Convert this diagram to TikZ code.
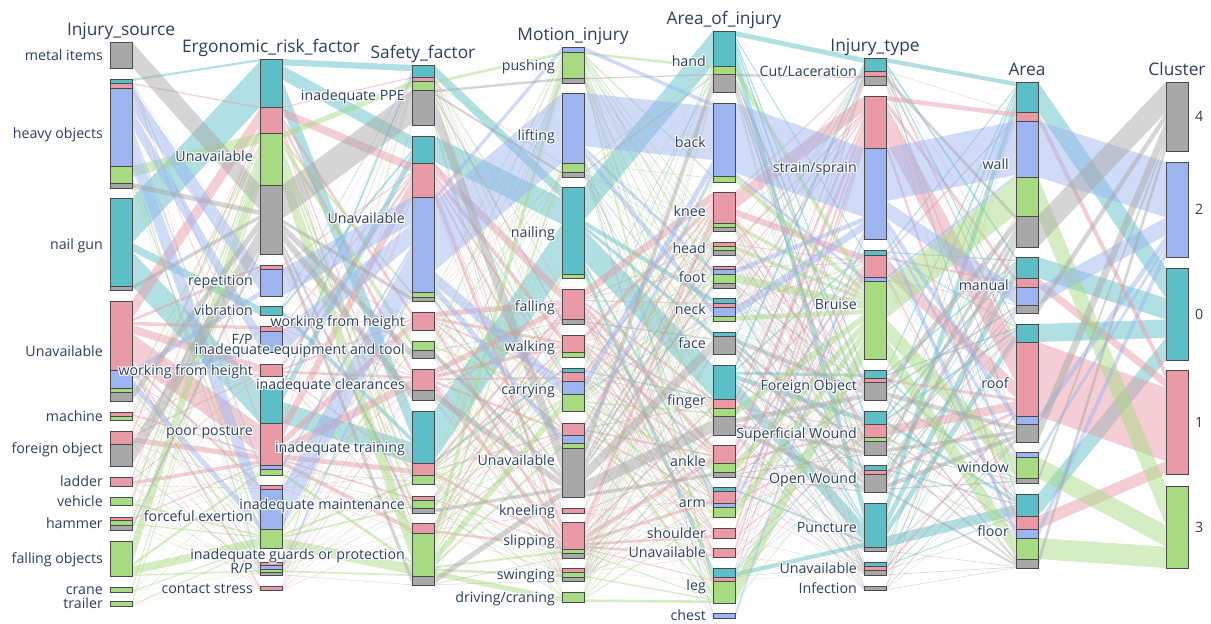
\documentclass[tikz,border=0pt]{standalone}
\usepackage{fontspec}
\setmainfont{Open Sans}

% cluster colours: 1 = cluster 0, 2 = cluster 1, 3 = cluster 3, 4 = cluster 2, 5 = cluster 4
\definecolor{c1}{HTML}{5CBFC7}
\definecolor{c2}{HTML}{E99AA6}
\definecolor{c3}{HTML}{A6DB82}
\definecolor{c4}{HTML}{9CB4F0}
\definecolor{c5}{HTML}{A8A8A8}
\definecolor{txt}{HTML}{2A3F5F}
\definecolor{edge}{HTML}{4A4A4A}

\tikzset{
  bar/.style={draw=edge, line width=0.9pt},
  rib/.style={fill opacity=0.48},
  lab/.style={font=\fontsize{14.2}{16}\selectfont, text=txt, inner sep=0pt},
  ttl/.style={font=\fontsize{17.3}{20}\selectfont, text=txt, inner sep=0pt, anchor=base},
}

% segments of each dimension: top/bottom/colour
\def\colA{42/68/5,79/83/1,83/88/2,88/166/4,166/183/3,183/188/5,198/286/1,286/290/5,301/370/2,370/388/4,388/392/3,392/401/5,412/416/2,416/420/3,431/444/2,444/466/5,477/486/2,497/505/3,517/520/2,520/525/3,525/530/5,541/576/3,587/592/3,601/606/3}
\def\colB{59/107/1,107/133/2,133/185/3,185/254/5,265/269/2,269/296/4,306/315/1,326/331/2,331/352/4,364/376/2,386/423/1,423/465/2,465/469/4,469/475/3,485/489/2,489/529/4,529/548/3,562/565/2,565/569/4,569/572/3,572/575/5,586/590/2}
\def\colC{65/77/1,77/81/2,81/90/3,90/125/5,136/163/1,163/197/2,197/292/4,292/297/3,297/301/5,312/330/2,341/350/3,350/358/5,369/390/2,390/400/5,411/463/1,463/475/2,475/484/3,496/500/2,500/508/3,508/513/5,523/533/2,533/576/3,576/585/5}
\def\colD{47/52/4,52/78/3,78/83/5,93/163/4,163/172/3,172/177/5,187/274/1,274/278/3,289/319/2,319/324/5,335/352/2,352/357/3,368/372/1,372/381/2,381/394/4,394/411/3,423/435/2,435/443/4,443/448/3,448/497/5,508/513/2,522/549/2,549/553/3,553/558/5,568/572/2,572/577/3,577/581/5,592/602/3}
\def\colE{31/66/1,66/74/3,74/92/5,103/176/4,176/182/3,192/223/2,223/227/3,227/231/5,242/246/2,246/250/3,250/255/5,266/269/2,269/274/4,274/283/3,283/288/5,298/303/1,303/307/2,307/316/4,316/321/3,332/336/1,336/354/5,365/399/1,399/408/2,408/416/3,416/435/5,445/463/2,463/472/3,472/477/5,487/491/1,491/503/2,503/507/4,507/517/3,528/538/2,548/557/2,568/577/1,577/581/2,581/603/3,613/618/4}
\def\colF{58/71/1,71/76/2,76/85/5,96/148/2,148/239/4,250/255/1,255/277/2,277/281/4,281/359/3,370/378/1,378/382/2,382/400/5,411/424/1,424/437/2,437/441/3,441/455/5,465/470/1,470/474/2,474/492/5,503/547/1,547/551/5,562/566/1,566/570/2,570/575/5,586/590/5}
\def\colG{82/112/1,112/121/2,121/177/4,177/216/3,216/247/5,257/278/1,278/287/2,287/305/4,305/313/5,324/342/1,342/416/2,416/424/4,424/442/5,452/457/4,457/478/3,478/483/5,494/516/1,516/529/2,529/538/4,538/559/3,559/568/5}
\def\colH{82/151/5,162/257/4,268/360/1,370/474/2,486/568/3}

% category labels: text/centre
\def\labA{{metal items}/55,{heavy objects}/133.5,{nail gun}/244,{Unavailable}/351,{machine}/416,{foreign object}/448.5,{ladder}/481.5,{vehicle}/501,{hammer}/523.5,{falling objects}/558.5,{crane}/589.5,{trailer}/603.5}
\def\labB{{Unavailable}/156.5,{repetition}/280.5,{vibration}/310.5,{F/P}/339,{working from height}/370,{poor posture}/430.5,{forceful exertion}/516.5,{R/P}/568.5,{contact stress}/588}
\def\labC{{inadequate PPE}/95,{Unavailable}/218.5,{working from height}/321,{inadequate equipment and tool}/349.5,{inadequate clearances}/384.5,{inadequate training}/447.5,{inadequate maintenance}/504.5,{inadequate guards or protection}/554}
\def\labD{{pushing}/65,{lifting}/135,{nailing}/232.5,{falling}/306.5,{walking}/346,{carrying}/389.5,{Unavailable}/460,{kneeling}/510.5,{slipping}/540,{swinging}/574.5,{driving/craning}/597}
\def\labE{{hand}/61.5,{back}/142.5,{knee}/211.5,{head}/248.5,{foot}/277,{neck}/309.5,{face}/343,{finger}/400,{ankle}/461,{arm}/502,{shoulder}/533,{Unavailable}/552.5,{leg}/585.5,{chest}/615.5}
\def\labF{{Cut/Laceration}/71.5,{strain/sprain}/167.5,{Bruise}/304.5,{Foreign Object}/385,{Superficial Wound}/433,{Open Wound}/478.5,{Puncture}/527,{Unavailable}/568.5,{Infection}/588}
\def\labG{{wall}/164.5,{manual}/285,{roof}/383,{window}/467.5,{floor}/531}
\def\labH{{4}/116.5,{2}/209.5,{0}/314,{1}/422,{3}/527}

% ribbons between two neighbouring dimensions, split by colour
% #1 left segments, #2 right segments, #3 x of left bar's right edge, #4 x of right bar's left edge
\newcommand\drawribbons[4]{%
  \foreach \cc in {1,...,5}{%
    \xdef\HL{0}\xdef\HR{0}%
    \foreach \sT/\sB/\sK in #1 {\ifnum\sK=\cc\relax\pgfmathsetmacro\tmpv{\HL+\sB-\sT}\xdef\HL{\tmpv}\fi}%
    \foreach \sT/\sB/\sK in #2 {\ifnum\sK=\cc\relax\pgfmathsetmacro\tmpv{\HR+\sB-\sT}\xdef\HR{\tmpv}\fi}%
    \foreach \sT/\sB/\sK [count=\jj] in #2 {\expandafter\xdef\csname rof\jj\endcsname{0}}%
    \foreach \aT/\aB/\aK in #1 {%
      \ifnum\aK=\cc\relax
        \xdef\lof{0}%
        \foreach \bT/\bB/\bK [count=\jj] in #2 {%
          \ifnum\bK=\cc\relax
            \pgfmathsetmacro\rwL{(\aB-\aT)*((\bB-\bT)/\HR)}%
            \pgfmathsetmacro\rwR{(\bB-\bT)*((\aB-\aT)/\HL)}%
            \edef\ro{\csname rof\jj\endcsname}%
            \fill[c\cc,rib] (#3,\aT+\lof) -- (#4,\bT+\ro) -- (#4,\bT+\ro+\rwR) -- (#3,\aT+\lof+\rwL) -- cycle;%
            \pgfmathsetmacro\tmpv{\lof+\rwL}\xdef\lof{\tmpv}%
            \pgfmathsetmacro\tmpv{\ro+\rwR}\expandafter\xdef\csname rof\jj\endcsname{\tmpv}%
          \fi}%
      \fi}%
  }%
}

% stacked bars of one dimension: #1 segments, #2 x of left edge
\newcommand\drawbars[2]{%
  \foreach \sT/\sB/\sK in #1 {\filldraw[bar,fill=c\sK] (#2,\sT) rectangle (#2+22,\sB);}%
}

% text with a white shadow: #1 name, #2 x, #3 y (baseline), #4 anchor, #5 text
\newcommand\halotext[5]{%
  \foreach \dx/\dy in {-1/-1,1/1,-1/1,1/-1,-1/0,1/0,0/-1,0/1}{%
    \node[lab,text=white,anchor=#4,xshift=\dx pt,yshift=\dy pt] at (#2,#3) {#5};}%
  \node[lab,anchor=#4] (#1) at (#2,#3) {#5};%
}

% category labels of one dimension: #1 list, #2 x, #3 anchor, #4 name prefix
\newcommand\drawlabels[4]{%
  \foreach \labtxt/\laby [count=\nn] in #1 {\halotext{#4-\nn}{#2}{\laby+5}{#3}{\labtxt}}%
}

\begin{document}
\begin{tikzpicture}[x=1pt,y=-1pt]
\fill[white] (0,0) rectangle (1211,624);
\useasboundingbox (0,0) rectangle (1211,624);

% flows
\drawribbons{\colA}{\colB}{132}{260}
\drawribbons{\colB}{\colC}{282}{412}
\drawribbons{\colC}{\colD}{434}{562}
\drawribbons{\colD}{\colE}{584}{713}
\drawribbons{\colE}{\colF}{735}{864}
\drawribbons{\colF}{\colG}{886}{1016}
\drawribbons{\colG}{\colH}{1038}{1166}

% category bars
\drawbars{\colA}{110}
\drawbars{\colB}{260}
\drawbars{\colC}{412}
\drawbars{\colD}{562}
\drawbars{\colE}{713}
\drawbars{\colF}{864}
\drawbars{\colG}{1016}
\drawbars{\colH}{1166}

% category labels
\drawlabels{\labA}{103}{base east}{la}
\drawlabels{\labB}{253}{base east}{lb}
\drawlabels{\labC}{405}{base east}{lc}
\drawlabels{\labD}{555}{base east}{ld}
\drawlabels{\labE}{706}{base east}{le}
\drawlabels{\labF}{857}{base east}{lf}
\drawlabels{\labG}{1009}{base east}{lg}
\drawlabels{\labH}{1195}{base west}{lh}

% dimension titles
\node[ttl] (tA) at (121,35) {Injury\_source};
\node[ttl] (tB) at (271,52) {Ergonomic\_risk\_factor};
\node[ttl] (tC) at (423,58) {Safety\_factor};
\node[ttl] (tD) at (573,40) {Motion\_injury};
\node[ttl] (tE) at (724,24) {Area\_of\_injury};
\node[ttl] (tF) at (875,51) {Injury\_type};
\node[ttl] (tG) at (1027,75) {Area};
\node[ttl] (tH) at (1177,75) {Cluster};
\end{tikzpicture}
\end{document}
